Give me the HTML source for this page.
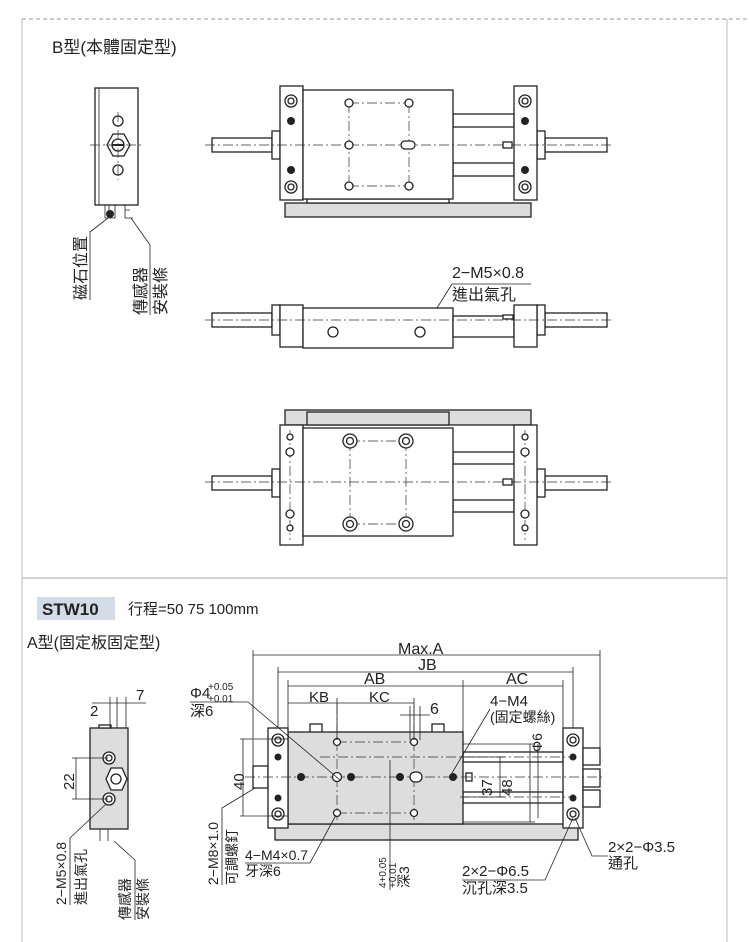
<!DOCTYPE html><html><head><meta charset="utf-8"><style>
body{margin:0;background:#fff}
svg{display:block}
text{font-family:"Liberation Sans","Noto Sans CJK TC",sans-serif;fill:#222}
.l{stroke:#222;stroke-width:1.3;fill:#fff}
.g{stroke:#222;stroke-width:1.3;fill:#ddd}
.t{stroke:#222;stroke-width:.8;fill:none}
.c{stroke:#333;stroke-width:.7;fill:none;stroke-dasharray:10 3 2 3}
.f{fill:#222}
</style></head><body>
<svg width="750" height="942" viewBox="0 0 750 942">
<line x1="22" y1="19" x2="750" y2="19" stroke="#999" stroke-dasharray="4 3"/>
<line x1="22" y1="19" x2="22" y2="942" stroke="#bbb"/>
<line x1="727" y1="19" x2="727" y2="942" stroke="#bbb"/>
<line x1="22" y1="578" x2="727" y2="578" stroke="#aaa"/>
<text x="52" y="53" font-size="17">B型(本體固定型)</text>

<rect x="95" y="88" width="43" height="117" class="l"/><line x1="99" y1="88" x2="99" y2="205" class="t"/>
<circle cx="118" cy="121" r="5" class="l"/><circle cx="118" cy="170" r="5" class="l"/>
<polygon points="113,134 124,134 130,145 124,156 113,156 107,145" class="l"/><circle cx="118" cy="145" r="6" class="l"/><line x1="112" y1="145" x2="124" y2="145" stroke="#222" stroke-width="2"/>
<line x1="90" y1="145" x2="143" y2="145" class="c"/><line x1="118" y1="112" x2="118" y2="180" class="c"/>
<path d="M105 205v13h10v-13M109 205v6M125 205v13h8M125 210h5" class="t" stroke-width="1.3"/><circle cx="110" cy="214" r="4" class="f"/>
<path d="M108 218L90 232V300M131 218L150 245V315" class="t"/>
<text transform="translate(86,300) rotate(-90)" font-size="16">磁石位置</text>
<text transform="translate(146,315) rotate(-90)" font-size="16">傳感器</text>
<text transform="translate(166,315) rotate(-90)" font-size="16">安裝條</text>

<g>
<rect x="285" y="203" width="246" height="14" class="g"/><rect x="307" y="199" width="142" height="4" class="l"/>
<rect x="453" y="114" width="61" height="13" class="l"/><rect x="453" y="163" width="61" height="13" class="l"/>
<rect x="212" y="138" width="60" height="14" class="l"/><rect x="272" y="131" width="8" height="28" class="l"/>
<rect x="545" y="138" width="62" height="14" class="l"/><rect x="537" y="131" width="8" height="28" class="l"/>
<rect x="280" y="86" width="23" height="114" class="l"/><rect x="514" y="86" width="23" height="114" class="l"/>
<rect x="303" y="90" width="150" height="109" class="l"/>
<line x1="205" y1="145" x2="612" y2="145" class="c"/>
<path d="M349 103H409M349 186H409M349 103V186M409 103V186" class="c"/>
<g class="l"><circle cx="349" cy="103" r="4"/><circle cx="409" cy="103" r="4"/><circle cx="349" cy="145" r="4"/><circle cx="349" cy="186" r="4"/><circle cx="409" cy="186" r="4"/><rect x="401" y="141" width="14" height="8" rx="4"/></g>
<g class="l"><circle cx="291" cy="101" r="6"/><circle cx="291" cy="101" r="3"/><circle cx="291" cy="187" r="6"/><circle cx="291" cy="187" r="3"/><circle cx="525" cy="101" r="6"/><circle cx="525" cy="101" r="3"/><circle cx="525" cy="187" r="6"/><circle cx="525" cy="187" r="3"/></g>
<g class="f"><circle cx="291" cy="121" r="4"/><circle cx="291" cy="170" r="4"/><circle cx="525" cy="121" r="4"/><circle cx="525" cy="170" r="4"/></g>
<rect x="503" y="142" width="9" height="6" class="l"/>
</g>

<text x="452" y="278" font-size="16">2−M5×0.8</text><text x="452" y="300" font-size="16">進出氣孔</text>
<line x1="452" y1="284" x2="531" y2="284" class="t"/><path d="M452 284L412 348" class="t"/>
<rect x="212" y="313" width="60" height="14" class="l"/><rect x="272" y="305" width="8" height="30" class="l"/>
<rect x="545" y="313" width="62" height="14" class="l"/><rect x="537" y="305" width="8" height="30" class="l"/>
<rect x="280" y="305" width="23" height="42" class="l"/><rect x="303" y="308" width="150" height="40" class="l"/>
<rect x="453" y="316" width="61" height="21" class="l"/><rect x="514" y="305" width="23" height="42" class="l"/>
<rect x="503" y="315" width="10" height="4" class="l"/>
<line x1="205" y1="320" x2="612" y2="320" class="c"/>
<circle cx="333" cy="332" r="5" class="l"/><circle cx="420" cy="332" r="5" class="l"/>

<rect x="285" y="410" width="246" height="15" class="g"/><rect x="307" y="412" width="142" height="13" class="g" fill="#eee"/>
<rect x="453" y="452" width="61" height="12" class="l"/><rect x="453" y="500" width="61" height="12" class="l"/>
<rect x="212" y="476" width="60" height="14" class="l"/><rect x="272" y="469" width="8" height="28" class="l"/>
<rect x="545" y="476" width="62" height="14" class="l"/><rect x="537" y="469" width="8" height="28" class="l"/>
<rect x="280" y="425" width="23" height="120" class="l"/><rect x="514" y="425" width="23" height="120" class="l"/>
<rect x="303" y="428" width="150" height="108" class="l"/>
<line x1="205" y1="482" x2="612" y2="482" class="c"/>
<path d="M350 441H406M350 524H406M350 441V524M406 441V524M290 430V540M525 430V540" class="c"/>
<g class="l"><circle cx="350" cy="441" r="7"/><circle cx="350" cy="441" r="3.5"/><circle cx="406" cy="441" r="7"/><circle cx="406" cy="441" r="3.5"/><circle cx="350" cy="524" r="7"/><circle cx="350" cy="524" r="3.5"/><circle cx="406" cy="524" r="7"/><circle cx="406" cy="524" r="3.5"/>
<circle cx="290" cy="437" r="3"/><circle cx="290" cy="452" r="4"/><circle cx="290" cy="514" r="4"/><circle cx="290" cy="528" r="3"/><circle cx="525" cy="437" r="3"/><circle cx="525" cy="452" r="4"/><circle cx="525" cy="514" r="4"/><circle cx="525" cy="528" r="3"/></g>
<rect x="503" y="479" width="9" height="6" class="l"/>

<rect x="37" y="597" width="78" height="23" fill="#d3dbe6"/>
<text x="42" y="615" font-size="17" font-weight="bold">STW10</text>
<text x="128" y="614" font-size="15">行程=50 75 100mm</text>
<text x="27" y="648" font-size="16">A型(固定板固定型)</text>

<rect x="90" y="728" width="38" height="101" class="g"/><rect x="99" y="725" width="12" height="3" class="l"/>
<circle cx="109" cy="758" r="6" class="l"/><circle cx="109" cy="758" r="3" class="l"/><circle cx="109" cy="799" r="6" class="l"/><circle cx="109" cy="799" r="3" class="l"/>
<polygon points="111,768 122,768 127,779 122,790 111,790 106,779" class="l"/><circle cx="116" cy="779" r="5" class="l"/>
<path d="M100 829v12M108 829v12" class="t" stroke-width="1.3"/>
<path d="M110 697V728M117 697V728M126 697V728M92 703H146M72 758H108M72 799H108M76 758V799" class="t"/>
<text x="90" y="716" font-size="15">2</text><text x="136" y="700" font-size="15">7</text>
<text transform="translate(74,790) rotate(-90)" font-size="15">22</text>
<path d="M105 805L70 838V905M114 841L135 860V920" class="t"/>
<text transform="translate(66,905) rotate(-90)" font-size="14">2−M5×0.8</text>
<text transform="translate(86,905) rotate(-90)" font-size="14">進出氣孔</text>
<text transform="translate(130,920) rotate(-90)" font-size="14">傳感器</text>
<text transform="translate(148,920) rotate(-90)" font-size="14">安裝條</text>

<rect x="275" y="824" width="303" height="16" class="g"/>
<rect x="310" y="724" width="12" height="9" class="l"/><rect x="432" y="724" width="12" height="9" class="l"/>
<rect x="463" y="752" width="100" height="10" class="l"/><rect x="463" y="792" width="100" height="11" class="l"/>
<rect x="253" y="766" width="15" height="22" class="l"/>
<rect x="288" y="732" width="175" height="92" class="g"/>
<rect x="268" y="728" width="20" height="100" class="l"/><rect x="563" y="728" width="20" height="100" class="l"/>
<rect x="583" y="748" width="17" height="17" class="l"/><rect x="583" y="769" width="17" height="18" class="l"/><rect x="583" y="790" width="17" height="17" class="l"/>
<rect x="466" y="773" width="6" height="8" class="l"/>
<line x1="245" y1="777" x2="605" y2="777" class="c"/>
<path d="M337 742H414M337 813H414M337 705V820M414 705V820M320 757H485M460 757H575M460 797H575" class="c"/>
<g class="l"><circle cx="337" cy="742" r="3.5"/><circle cx="414" cy="742" r="3.5"/><circle cx="337" cy="777" r="4.5"/><circle cx="337" cy="813" r="3.5"/><circle cx="414" cy="813" r="3.5"/><rect x="410" y="772" width="12" height="10" rx="5"/>
<circle cx="278" cy="740" r="6"/><circle cx="278" cy="740" r="3"/><circle cx="278" cy="814" r="6"/><circle cx="278" cy="814" r="3"/><circle cx="573" cy="740" r="6"/><circle cx="573" cy="740" r="3"/><circle cx="573" cy="814" r="6"/><circle cx="573" cy="814" r="3"/></g>
<g class="f"><circle cx="301" cy="777" r="4"/><circle cx="351" cy="777" r="4"/><circle cx="400" cy="777" r="4"/><circle cx="453" cy="777" r="4"/><circle cx="278" cy="757" r="3.5"/><circle cx="278" cy="798" r="3.5"/><circle cx="573" cy="757" r="3.5"/><circle cx="573" cy="798" r="3.5"/></g>
<path d="M253 650V766M600 650V748M278 667V728M573 667V728M288 680V732M463 680V732M563 680V728M337 698V740M414 698V740M253 655H600M278 672H573M288 686H463M463 686H563M288 703H414M400 715H430M240 739H288M240 816H288M243 739V816M463 757H505M463 797H505M500 757V797M463 744H535M463 822H535M530 744V822M538 744V818M410 706V740M420 706V740" class="t"/>
<text x="398" y="654" font-size="16">Max.A</text><text x="418" y="670" font-size="16">JB</text>
<text x="364" y="684" font-size="16">AB</text><text x="506" y="684" font-size="16">AC</text>
<text x="309" y="702" font-size="15">KB</text><text x="369" y="702" font-size="15">KC</text><text x="430" y="714" font-size="16">6</text>
<text x="490" y="706" font-size="15">4−M4</text><text x="490" y="722" font-size="14">(固定螺絲)</text>
<path d="M490 709L452 773" class="t"/>
<text x="190" y="698" font-size="15">Φ4</text><text x="208" y="690" font-size="10">+0.05</text><text x="208" y="702" font-size="10">+0.01</text>
<text x="190" y="716" font-size="15">深6</text><line x1="190" y1="702" x2="248" y2="702" class="t"/><path d="M248 702L340 780" class="t"/>
<text transform="translate(244,790) rotate(-90)" font-size="15">40</text>
<text transform="translate(492,796) rotate(-90)" font-size="15">37</text>
<text transform="translate(512,796) rotate(-90)" font-size="15">48</text>
<text transform="translate(542,752) rotate(-90)" font-size="14">Φ6</text>
<text transform="translate(218,885) rotate(-90)" font-size="14">2−M8×1.0</text>
<text transform="translate(237,885) rotate(-90)" font-size="14">可調螺釘</text>
<path d="M222 885V808L255 788" class="t"/>
<text x="245" y="860" font-size="14">4−M4×0.7</text><text x="245" y="876" font-size="14">牙深6</text>
<path d="M245 863H310L336 815" class="t"/>
<text transform="translate(386,888) rotate(-90)" font-size="10">4+0.05</text>
<text transform="translate(396,888) rotate(-90)" font-size="10">+0.01</text>
<text transform="translate(409,888) rotate(-90)" font-size="14">深3</text>
<path d="M390 760V890" class="t"/>
<text x="462" y="876" font-size="15">2×2−Φ6.5</text><text x="462" y="893" font-size="15">沉孔深3.5</text>
<path d="M462 880H545L573 818" class="t"/>
<text x="608" y="852" font-size="15">2×2−Φ3.5</text><text x="608" y="868" font-size="15">通孔</text>
<path d="M608 856H592L575 818" class="t"/>
</svg>
</body></html>
